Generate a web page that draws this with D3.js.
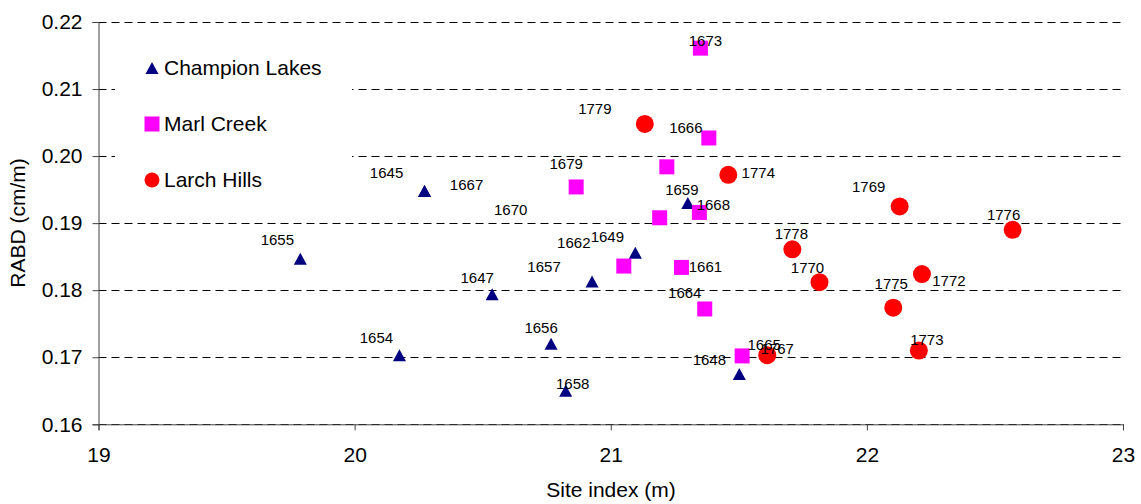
<!DOCTYPE html>
<html>
<head>
<meta charset="utf-8">
<script src="https://cdn.jsdelivr.net/npm/d3@7"></script>
<style>
  body { margin: 0; background: #fff; }
  svg text { font-family: "Liberation Sans", Arial, sans-serif; fill: #000; }
</style>
</head>
<body>
<svg id="chart" width="1141" height="504"></svg>
<script>
// Site index (m) vs RABD (cm/m), one array per site
const championLakes = [
  { id: "1655", x: 19.788, y: 0.1847 },
  { id: "1654", x: 20.175, y: 0.1703 },
  { id: "1645", x: 20.273, y: 0.1948 },
  { id: "1667", x: 20.273, y: 0.1948 },
  { id: "1647", x: 20.537, y: 0.1794 },
  { id: "1656", x: 20.767, y: 0.1720 },
  { id: "1658", x: 20.824, y: 0.1650 },
  { id: "1657", x: 20.927, y: 0.1813 },
  { id: "1649", x: 21.096, y: 0.1856 },
  { id: "1659", x: 21.301, y: 0.1930 },
  { id: "1648", x: 21.502, y: 0.1675 },
];

const marlCreek = [
  { id: "1673", x: 21.350, y: 0.2161 },
  { id: "1666", x: 21.383, y: 0.2027 },
  { id: "",     x: 21.219, y: 0.1984 },
  { id: "1679", x: 20.865, y: 0.1954 },
  { id: "1668", x: 21.346, y: 0.1916 },
  { id: "1670", x: 21.191, y: 0.1908 },
  { id: "1662", x: 21.051, y: 0.1836 },
  { id: "1661", x: 21.276, y: 0.1834 },
  { id: "1664", x: 21.367, y: 0.1772 },
  { id: "1665", x: 21.513, y: 0.1702 },
];

const larchHills = [
  { id: "1779", x: 21.133, y: 0.2048 },
  { id: "1774", x: 21.459, y: 0.1972 },
  { id: "1769", x: 22.128, y: 0.1925 },
  { id: "1776", x: 22.569, y: 0.1890 },
  { id: "1778", x: 21.709, y: 0.1861 },
  { id: "1770", x: 21.815, y: 0.1812 },
  { id: "1772", x: 22.215, y: 0.1824 },
  { id: "1775", x: 22.103, y: 0.1774 },
  { id: "1773", x: 22.203, y: 0.1710 },
  { id: "1767", x: 21.611, y: 0.1703 },
];

const xTicks = [19, 20, 21, 22, 23];
const yTicks = [0.16, 0.17, 0.18, 0.19, 0.20, 0.21, 0.22];

// where each data label sits relative to its marker (px)
const labelNudge = {
  "1655": [-23, -14], "1654": [-23, -12], "1645": [-38, -13], "1667": [42, -1],
  "1647": [-15, -11], "1656": [-10, -11], "1658": [7, -2], "1657": [-48, -9],
  "1649": [-28, -11], "1659": [-6, -8], "1648": [-30, -9],
  "1673": [5, -2], "1666": [-23, -5], "1679": [-10, -18], "1668": [14, -2],
  "1670": [-149, -3], "1662": [-50, -18], "1661": [24, 5], "1664": [-20, -11],
  "1665": [22, -6],
  "1779": [-50, -10], "1774": [30, 3], "1769": [-31, -14], "1776": [-9, -10],
  "1778": [-1, -10], "1770": [-12, -9], "1772": [27, 12], "1775": [-2, -19],
  "1773": [8, -6], "1767": [10, -1],
};

const series = [
  { name: "Champion Lakes", data: championLakes, shape: "triangle", color: "#000080" },
  { name: "Marl Creek", data: marlCreek, shape: "square", color: "#FF00FF" },
  { name: "Larch Hills", data: larchHills, shape: "circle", color: "#FF0000" },
];

(function() {
  const svg = d3.select("#chart");
  const plotLeft = 98.5, plotRight = 1123, plotTop = 22, plotBottom = 424.3;
  const FONT = 21;

  const x = d3.scaleLinear().domain([19, 23]).range([plotLeft, plotRight]);
  const y = d3.scaleLinear().domain([0.16, 0.22]).range([plotBottom, plotTop]);

  function markerPath(shape, s) {
    if (shape === "triangle") {
      const w = s * 0.87, h = s * 0.8;
      return `M0,${-h / 2}L${w / 2},${h / 2}L${-w / 2},${h / 2}Z`;
    }
    if (shape === "square") {
      return `M${-s / 2},${-s / 2}h${s}v${s}h${-s}Z`;
    }
    const r = s / 2;
    return `M${-r},0a${r},${r} 0 1,0 ${s},0a${r},${r} 0 1,0 ${-s},0Z`;
  }
  const markerSize = { triangle: 15, square: 15, circle: 18 };

  // gridlines
  svg.append("g")
    .selectAll("line")
    .data(yTicks)
    .join("line")
    .attr("x1", plotLeft).attr("x2", plotRight)
    .attr("y1", d => Math.round(y(d)) + 0.5).attr("y2", d => Math.round(y(d)) + 0.5)
    .attr("stroke", "#000")
    .attr("stroke-width", 1)
    .attr("stroke-dasharray", "8,5");

  // legend box (hides gridlines behind it)
  svg.append("rect")
    .attr("x", 115).attr("y", 30)
    .attr("width", 237).attr("height", 184)
    .attr("fill", "#fff");

  // axes
  const yAxis = svg.append("g")
    .attr("transform", `translate(${plotLeft},0)`)
    .call(d3.axisLeft(y).tickValues(yTicks).tickFormat(d3.format(".2f")).tickSize(6).tickPadding(10));

  const xAxis = svg.append("g")
    .attr("transform", `translate(0,${plotBottom})`)
    .call(d3.axisBottom(x).tickValues(xTicks).tickFormat(d3.format("d")).tickSize(6).tickPadding(17));

  [xAxis, yAxis].forEach(a => {
    a.select(".domain").attr("stroke", "#404040");
    a.selectAll(".tick line").attr("stroke", "#404040");
    a.selectAll(".tick text")
      .attr("font-family", "Liberation Sans, Arial, sans-serif")
      .attr("font-size", FONT)
      .attr("fill", "#000");
  });

  svg.append("text")
    .attr("x", 611)
    .attr("y", 497)
    .attr("text-anchor", "middle")
    .attr("font-size", FONT)
    .text("Site index (m)");

  svg.append("text")
    .attr("transform", "translate(25,223) rotate(-90)")
    .attr("text-anchor", "middle")
    .attr("font-size", FONT)
    .text("RABD (cm/m)");

  // markers
  series.forEach(s => {
    svg.append("g")
      .selectAll("path")
      .data(s.data)
      .join("path")
      .attr("transform", d => `translate(${x(d.x)},${y(d.y)})`)
      .attr("d", markerPath(s.shape, markerSize[s.shape]))
      .attr("fill", s.color);
  });

  // data labels on top
  const allPoints = series.flatMap(s => s.data).filter(d => d.id);
  svg.append("g")
    .selectAll("text")
    .data(allPoints)
    .join("text")
    .attr("x", d => x(d.x) + (labelNudge[d.id] || [0, -10])[0])
    .attr("y", d => y(d.y) + (labelNudge[d.id] || [0, -10])[1])
    .attr("text-anchor", "middle")
    .attr("font-size", 15)
    .text(d => d.id);

  // legend
  const legend = svg.append("g");
  series.forEach((s, i) => {
    const cy = 68 + i * 56;
    legend.append("path")
      .attr("transform", `translate(152,${cy})`)
      .attr("d", markerPath(s.shape, 15))
      .attr("fill", s.color);
    legend.append("text")
      .attr("x", 164)
      .attr("y", cy + 7)
      .attr("font-size", FONT)
      .text(s.name);
  });
})();
</script>
</body>
</html>
